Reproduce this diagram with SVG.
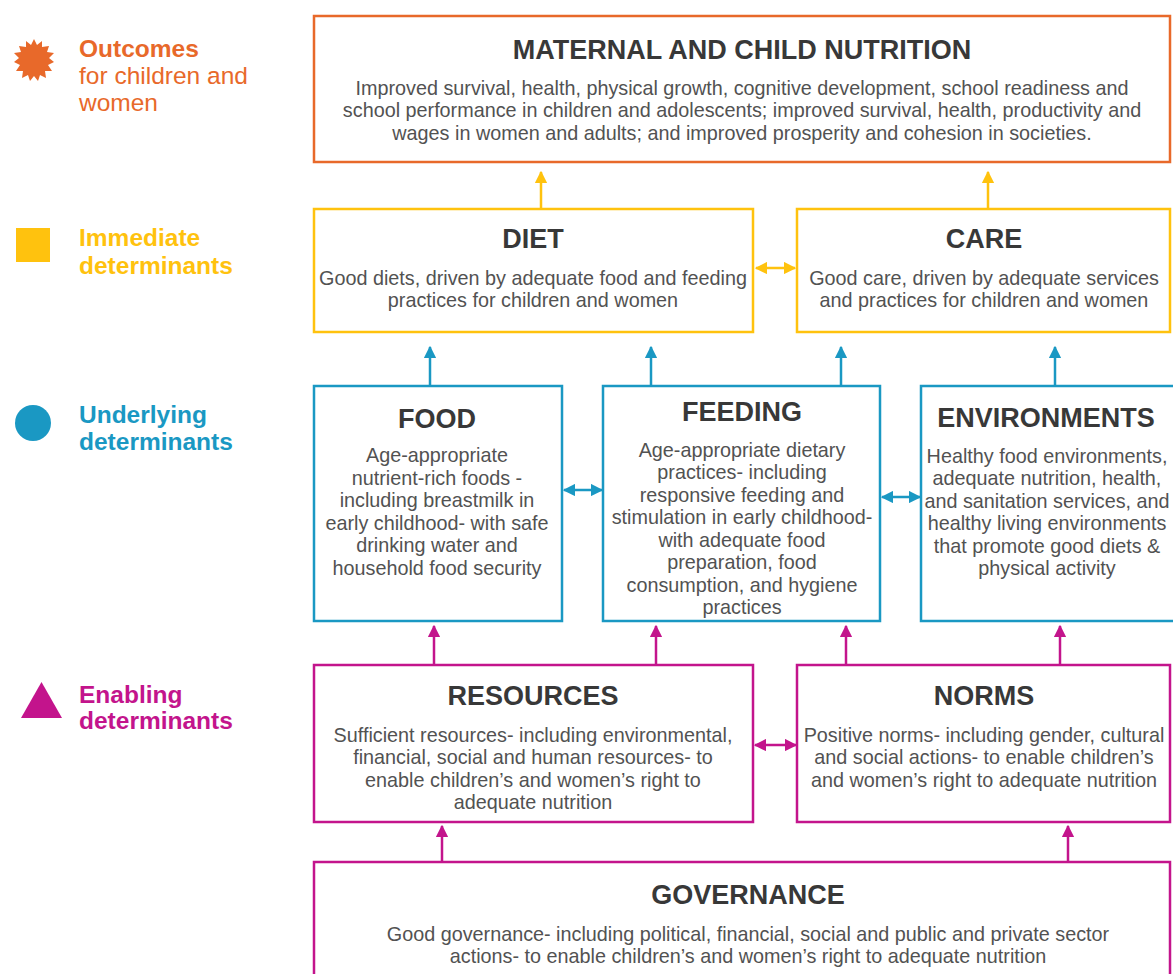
<svg xmlns="http://www.w3.org/2000/svg" width="1173" height="974" viewBox="0 0 1173 974">
<defs>
<style>
.bo{fill:#fff;stroke:#E8692A;stroke-width:2.5}
.by{fill:#fff;stroke:#FFC20E;stroke-width:2.5}
.bb{fill:#fff;stroke:#1A98C3;stroke-width:2.5}
.bm{fill:#fff;stroke:#C3148C;stroke-width:2.5}
.t{font-family:"Liberation Sans",Arial,sans-serif;font-weight:bold;font-size:27px;fill:#383838;text-anchor:middle}
.b{font-family:"Liberation Sans",Arial,sans-serif;font-size:19.8px;fill:#525252;text-anchor:middle}
.lg{font-family:"Liberation Sans",Arial,sans-serif;font-size:24.5px}
.lgb{font-family:"Liberation Sans",Arial,sans-serif;font-size:24.5px;font-weight:bold}
.cy{stroke:#FFC20E;stroke-width:2.5;fill:none}
.cb{stroke:#1A98C3;stroke-width:2.5;fill:none}
.cm{stroke:#C3148C;stroke-width:2.5;fill:none}
</style>
<marker id="ay" viewBox="0 0 10 10" refX="9" refY="5" markerWidth="5" markerHeight="5" orient="auto-start-reverse" markerUnits="strokeWidth"><path d="M0,0L10,5L0,10z" fill="#FFC20E"/></marker>
<marker id="ab" viewBox="0 0 10 10" refX="9" refY="5" markerWidth="5" markerHeight="5" orient="auto-start-reverse" markerUnits="strokeWidth"><path d="M0,0L10,5L0,10z" fill="#1A98C3"/></marker>
<marker id="am" viewBox="0 0 10 10" refX="9" refY="5" markerWidth="5" markerHeight="5" orient="auto-start-reverse" markerUnits="strokeWidth"><path d="M0,0L10,5L0,10z" fill="#C3148C"/></marker>
</defs>
<rect width="1173" height="974" fill="#fff"/>

<g id="legend">
<g id="legend-outcomes">
<polygon fill="#E8692A" points="34,39 37,45 42,41 42,47 49,46 47,52 54,53 49,58 54,62 48,65 52,71 45,71 46,78 40,75 38,81 34,76 30,81 28,75 22,78 23,71 16,71 20,65 14,62 19,58 14,53 21,52 19,46 26,47 26,41 31,45"/>
<text class="lgb" x="79" y="57" fill="#E8692A">Outcomes</text>
<text class="lg" x="79" y="84" fill="#E8692A">for children and</text>
<text class="lg" x="79" y="111" fill="#E8692A">women</text>
</g>
<g id="legend-immediate">
<rect x="16" y="228" width="34" height="34" fill="#FFC20E"/>
<text class="lgb" x="79" y="246" fill="#FFC20E">Immediate</text>
<text class="lgb" x="79" y="274" fill="#FFC20E">determinants</text>
</g>
<g id="legend-underlying">
<circle cx="33" cy="423" r="18" fill="#1A98C3"/>
<text class="lgb" x="79" y="423" fill="#1A98C3">Underlying</text>
<text class="lgb" x="79" y="450" fill="#1A98C3">determinants</text>
</g>
<g id="legend-enabling">
<polygon points="21,718 62,718 41.5,682" fill="#C3148C"/>
<text class="lgb" x="79" y="703" fill="#C3148C">Enabling</text>
<text class="lgb" x="79" y="729" fill="#C3148C">determinants</text>
</g>
</g>

<g id="connectors">
<line class="cy" x1="541" y1="208" x2="541" y2="172" marker-end="url(#ay)"/>
<line class="cy" x1="988" y1="208" x2="988" y2="172" marker-end="url(#ay)"/>
<line class="cy" x1="756" y1="268" x2="795" y2="268" marker-start="url(#ay)" marker-end="url(#ay)"/>
<line class="cb" x1="430" y1="385" x2="430" y2="347" marker-end="url(#ab)"/>
<line class="cb" x1="651" y1="385" x2="651" y2="347" marker-end="url(#ab)"/>
<line class="cb" x1="841" y1="385" x2="841" y2="347" marker-end="url(#ab)"/>
<line class="cb" x1="1055" y1="385" x2="1055" y2="347" marker-end="url(#ab)"/>
<line class="cb" x1="564" y1="490" x2="602" y2="490" marker-start="url(#ab)" marker-end="url(#ab)"/>
<line class="cb" x1="882" y1="497" x2="920" y2="497" marker-start="url(#ab)" marker-end="url(#ab)"/>
<line class="cm" x1="434" y1="664" x2="434" y2="626" marker-end="url(#am)"/>
<line class="cm" x1="656" y1="664" x2="656" y2="626" marker-end="url(#am)"/>
<line class="cm" x1="846" y1="664" x2="846" y2="626" marker-end="url(#am)"/>
<line class="cm" x1="1060" y1="664" x2="1060" y2="626" marker-end="url(#am)"/>
<line class="cm" x1="755" y1="745" x2="796" y2="745" marker-start="url(#am)" marker-end="url(#am)"/>
<line class="cm" x1="442" y1="861" x2="442" y2="826" marker-end="url(#am)"/>
<line class="cm" x1="1068" y1="861" x2="1068" y2="826" marker-end="url(#am)"/>
</g>

<g id="maternal">
<rect class="bo" x="314" y="16" width="856" height="146"/>
<text class="t" x="742" y="59">MATERNAL AND CHILD NUTRITION</text>
<text class="b" x="742" y="95">Improved survival, health, physical growth, cognitive development, school readiness and</text>
<text class="b" x="742" y="117">school performance in children and adolescents; improved survival, health, productivity and</text>
<text class="b" x="742" y="140">wages in women and adults; and improved prosperity and cohesion in societies.</text>
</g>

<g id="diet">
<rect class="by" x="314" y="209" width="439" height="123"/>
<text class="t" x="533" y="248">DIET</text>
<text class="b" x="533" y="285">Good diets, driven by adequate food and feeding</text>
<text class="b" x="533" y="307">practices for children and women</text>
</g>

<g id="care">
<rect class="by" x="797" y="209" width="373" height="123"/>
<text class="t" x="984" y="248">CARE</text>
<text class="b" x="984" y="285">Good care, driven by adequate services</text>
<text class="b" x="984" y="307">and practices for children and women</text>
</g>

<g id="food">
<rect class="bb" x="314" y="386" width="248" height="235"/>
<text class="t" x="437" y="428">FOOD</text>
<text class="b" x="437" y="462">Age-appropriate</text>
<text class="b" x="437" y="485">nutrient-rich foods -</text>
<text class="b" x="437" y="507">including breastmilk in</text>
<text class="b" x="437" y="530">early childhood- with safe</text>
<text class="b" x="437" y="552">drinking water and</text>
<text class="b" x="437" y="575">household food security</text>
</g>

<g id="feeding">
<rect class="bb" x="603" y="386" width="277" height="235"/>
<text class="t" x="742" y="421">FEEDING</text>
<text class="b" x="742" y="457">Age-appropriate dietary</text>
<text class="b" x="742" y="479">practices- including</text>
<text class="b" x="742" y="502">responsive feeding and</text>
<text class="b" x="742" y="524">stimulation in early childhood-</text>
<text class="b" x="742" y="547">with adequate food</text>
<text class="b" x="742" y="569">preparation, food</text>
<text class="b" x="742" y="592">consumption, and hygiene</text>
<text class="b" x="742" y="614">practices</text>
</g>

<g id="environments">
<rect class="bb" x="921" y="386" width="262" height="235"/>
<text class="t" x="1046" y="427">ENVIRONMENTS</text>
<text class="b" x="1047" y="463">Healthy food environments,</text>
<text class="b" x="1047" y="485">adequate nutrition, health,</text>
<text class="b" x="1047" y="508">and sanitation services, and</text>
<text class="b" x="1047" y="530">healthy living environments</text>
<text class="b" x="1047" y="553">that promote good diets &amp;</text>
<text class="b" x="1047" y="575">physical activity</text>
</g>

<g id="resources">
<rect class="bm" x="314" y="665" width="439" height="157"/>
<text class="t" x="533" y="705">RESOURCES</text>
<text class="b" x="533" y="742">Sufficient resources- including environmental,</text>
<text class="b" x="533" y="764">financial, social and human resources- to</text>
<text class="b" x="533" y="787">enable children’s and women’s right to</text>
<text class="b" x="533" y="809">adequate nutrition</text>
</g>

<g id="norms">
<rect class="bm" x="797" y="665" width="373" height="157"/>
<text class="t" x="984" y="705">NORMS</text>
<text class="b" x="984" y="742">Positive norms- including gender, cultural</text>
<text class="b" x="984" y="764">and social actions- to enable children’s</text>
<text class="b" x="984" y="787">and women’s right to adequate nutrition</text>
</g>

<g id="governance">
<rect class="bm" x="314" y="862" width="856" height="130"/>
<text class="t" x="748" y="904">GOVERNANCE</text>
<text class="b" x="748" y="941">Good governance- including political, financial, social and public and private sector</text>
<text class="b" x="748" y="963">actions- to enable children’s and women’s right to adequate nutrition</text>
</g>
</svg>
